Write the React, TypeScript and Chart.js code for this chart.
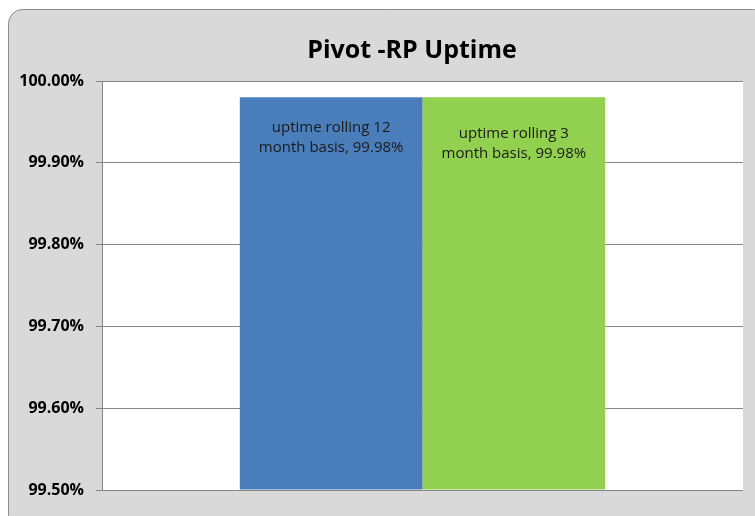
import React, { useEffect, useRef } from "react";
import { Chart, registerables } from "chart.js";

Chart.register(...registerables);

const chartTitle = "Pivot -RP Uptime";
const categories = [""];
const seriesNames = ["uptime rolling 12 month basis", "uptime rolling 3 month basis"];
const seriesValues = [99.98, 99.98];
const seriesColors = ["#4A7EBB", "#92D050"];
const yMin = 99.5;
const yMax = 100.0;
const yStep = 0.1;

const FONT = "'Open Sans', 'Noto Sans', sans-serif";

const backgroundPlugin = {
  id: "bgPlugin",
  beforeDraw(chart: any) {
    const { ctx, chartArea } = chart;
    ctx.save();
    ctx.fillStyle = "#ffffff";
    ctx.fillRect(0, 0, chart.width, chart.height);
    const x = 8.5, y = 9.5, w = 760, h = 520, r = 14;
    ctx.beginPath();
    ctx.moveTo(x + r, y);
    ctx.lineTo(x + w - r, y);
    ctx.arcTo(x + w, y, x + w, y + r, r);
    ctx.lineTo(x + w, y + h - r);
    ctx.arcTo(x + w, y + h, x + w - r, y + h, r);
    ctx.lineTo(x + r, y + h);
    ctx.arcTo(x, y + h, x, y + h - r, r);
    ctx.lineTo(x, y + r);
    ctx.arcTo(x, y, x + r, y, r);
    ctx.closePath();
    ctx.fillStyle = "#D9D9D9";
    ctx.fill();
    ctx.strokeStyle = "#8C8C8C";
    ctx.lineWidth = 1;
    ctx.stroke();
    ctx.fillStyle = "#ffffff";
    ctx.fillRect(chartArea.left, chartArea.top, chartArea.right - chartArea.left, chartArea.bottom - chartArea.top);
    ctx.fillStyle = "#000000";
    ctx.font = `bold 25px ${FONT}`;
    ctx.textAlign = "center";
    ctx.textBaseline = "middle";
    ctx.fillText(chartTitle, 412, 51);
    ctx.restore();
  },
};

function wrapText(ctx: CanvasRenderingContext2D, text: string, maxWidth: number): string[] {
  const words = text.split(" ");
  const lines: string[] = [];
  let cur = "";
  for (const w of words) {
    const test = cur ? cur + " " + w : w;
    if (ctx.measureText(test).width > maxWidth && cur) {
      lines.push(cur);
      cur = w;
    } else {
      cur = test;
    }
  }
  if (cur) lines.push(cur);
  return lines;
}

const labelOffsets = [30, 36];

const labelPlugin = {
  id: "barLabels",
  afterDatasetsDraw(chart: any) {
    const { ctx } = chart;
    ctx.save();
    ctx.font = `15px ${FONT}`;
    ctx.fillStyle = "#1a1a1a";
    ctx.textAlign = "center";
    ctx.textBaseline = "middle";
    chart.data.datasets.forEach((ds: any, i: number) => {
      const meta = chart.getDatasetMeta(i);
      meta.data.forEach((bar: any, j: number) => {
        const text = `${ds.label}, ${Number(ds.data[j]).toFixed(2)}%`;
        const lines = wrapText(ctx, text, 150);
        lines.forEach((ln, k) => {
          ctx.fillText(ln, bar.x, bar.y + labelOffsets[i] + k * 20);
        });
      });
    });
    ctx.restore();
  },
};

export default function App() {
  const ref = useRef<HTMLCanvasElement>(null);
  useEffect(() => {
    if (!ref.current) return;
    const chart = new Chart(ref.current, {
      type: "bar",
      data: {
        labels: categories,
        datasets: seriesNames.map((name, i) => ({
          label: name,
          data: [seriesValues[i]],
          backgroundColor: seriesColors[i],
          borderWidth: 0,
          base: yMin,
          categoryPercentage: 0.57,
          barPercentage: 1,
        })),
      },
      options: {
        responsive: false,
        animation: false,
        layout: { padding: { left: 0, right: 12, top: 81, bottom: 26 } },
        plugins: {
          legend: { display: false },
          title: { display: false },
          tooltip: { enabled: false },
        },
        scales: {
          x: { display: false },
          y: {
            min: yMin,
            max: yMax,
            afterFit(scale: any) {
              scale.width = 102;
            },
            ticks: {
              stepSize: yStep,
              padding: 12,
              color: "#000000",
              font: { family: FONT, size: 16, weight: "bold" },
              callback: (v: any) => Number(v).toFixed(2) + "%",
            },
            grid: {
              color: "#868686",
              lineWidth: 1,
              tickLength: 6,
              drawTicks: true,
            },
            border: { display: true, color: "#868686", width: 1 },
          },
        },
      },
      plugins: [backgroundPlugin, labelPlugin],
    });
    return () => chart.destroy();
  }, []);
  return (
    <div style={{ position: "fixed", left: 0, top: 0, width: 755, height: 516 }}>
      <canvas ref={ref} width={755} height={516} />
    </div>
  );
}
